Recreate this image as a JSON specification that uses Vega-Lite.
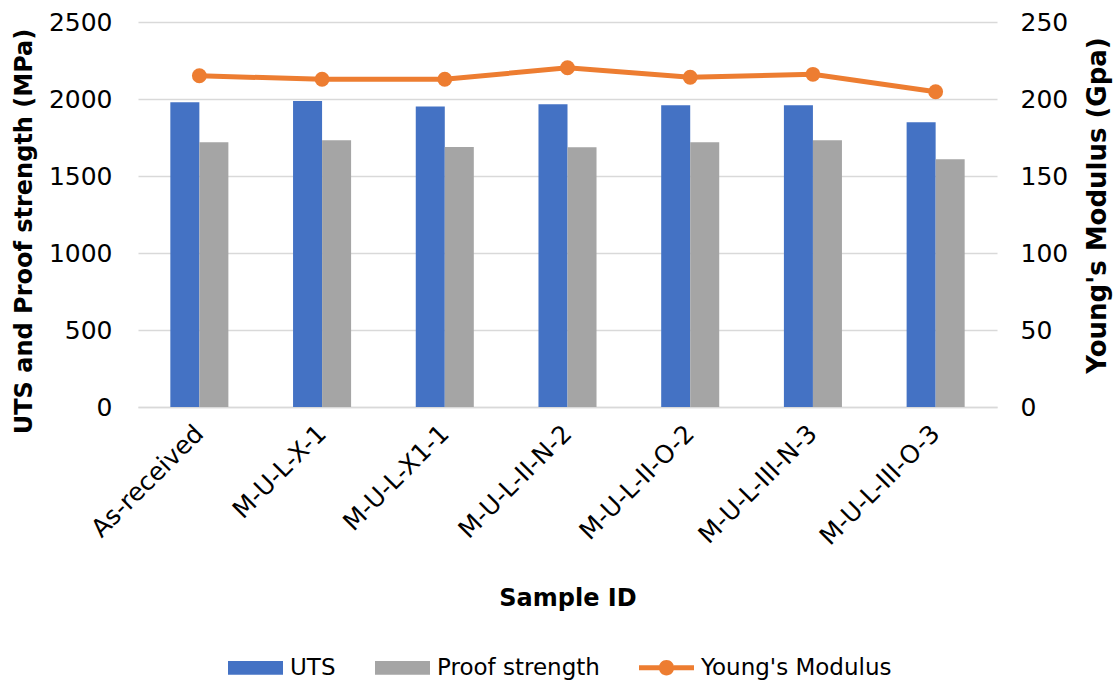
{
  "$schema": "https://vega.github.io/schema/vega-lite/v6.json",
  "width": 859,
  "height": 385,
  "autosize": {"type": "none"},
  "padding": {"left": 138, "top": 22, "right": 121, "bottom": 277},
  "background": "white",
  "config": {
    "font": "DejaVu Sans",
    "view": {"stroke": null},
    "axis": {"labelFont": "DejaVu Sans", "titleFont": "DejaVu Sans", "labelColor": "#000000", "titleColor": "#000000", "labelFontSize": 25, "titleFontSize": 24, "titleFontWeight": "bold", "gridColor": "#D9D9D9", "gridWidth": 1.3, "ticks": false, "domain": false}
  },
  "datasets": {
    "bars": [
      {"sample": "As-received", "measure": "UTS", "value": 1979},
      {"sample": "As-received", "measure": "Proof strength", "value": 1719},
      {"sample": "M-U-L-X-1", "measure": "UTS", "value": 1987},
      {"sample": "M-U-L-X-1", "measure": "Proof strength", "value": 1732},
      {"sample": "M-U-L-X1-1", "measure": "UTS", "value": 1951},
      {"sample": "M-U-L-X1-1", "measure": "Proof strength", "value": 1688},
      {"sample": "M-U-L-II-N-2", "measure": "UTS", "value": 1966},
      {"sample": "M-U-L-II-N-2", "measure": "Proof strength", "value": 1686},
      {"sample": "M-U-L-II-O-2", "measure": "UTS", "value": 1959},
      {"sample": "M-U-L-II-O-2", "measure": "Proof strength", "value": 1719},
      {"sample": "M-U-L-III-N-3", "measure": "UTS", "value": 1959},
      {"sample": "M-U-L-III-N-3", "measure": "Proof strength", "value": 1732},
      {"sample": "M-U-L-III-O-3", "measure": "UTS", "value": 1849},
      {"sample": "M-U-L-III-O-3", "measure": "Proof strength", "value": 1608}
    ],
    "modulus": [
      {"sample": "As-received", "modulus": 215.1},
      {"sample": "M-U-L-X-1", "modulus": 212.8},
      {"sample": "M-U-L-X1-1", "modulus": 212.8},
      {"sample": "M-U-L-II-N-2", "modulus": 220.3},
      {"sample": "M-U-L-II-O-2", "modulus": 214.1},
      {"sample": "M-U-L-III-N-3", "modulus": 216.0},
      {"sample": "M-U-L-III-O-3", "modulus": 204.7}
    ]
  },
  "layer": [
    {
      "data": {"name": "bars"},
      "mark": {"type": "bar"},
      "encoding": {
        "x": {
          "field": "sample", "type": "nominal", "sort": null,
          "scale": {"paddingInner": 0.527, "paddingOuter": 0.2635},
          "axis": {"title": "Sample ID", "labelAngle": -45, "labelAlign": "right", "labelBaseline": "middle", "labelPadding": 22, "titleY": 191, "titleBaseline": "middle", "domain": true, "domainColor": "#D9D9D9", "domainWidth": 1.3, "labelLimit": 300}
        },
        "xOffset": {"field": "measure", "type": "nominal", "sort": ["UTS", "Proof strength"], "scale": {"paddingInner": 0, "paddingOuter": 0}},
        "y": {
          "field": "value", "type": "quantitative",
          "scale": {"domain": [0, 2500]},
          "axis": {"title": "UTS and Proof strength (MPa)", "format": "d", "values": [0, 500, 1000, 1500, 2000, 2500], "labelPadding": 26, "titleX": -114, "titleY": 209, "titleAngle": -90, "titleBaseline": "middle", "titleAlign": "center", "orient": "left"}
        },
        "color": {
          "field": "measure", "type": "nominal",
          "scale": {"domain": ["UTS", "Proof strength", "Young's Modulus"], "range": ["#4472C4", "#A5A5A5", "#ED7D31"]},
          "legend": {
            "title": null, "orient": "none", "direction": "horizontal",
            "legendX": 90, "legendY": 618,
            "labelFontSize": 23, "labelFont": "DejaVu Sans", "labelColor": "#000000", "labelLimit": 400,
            "symbolSize": 3025, "labelOffset": 7, "columnPadding": 39,
            "symbolStrokeWidth": 0,
            "encode": {
              "symbols": {
                "update": {
                  "shape": {"signal": "datum.index === 2 ? 'M-1,-0.09H-0.27V0.09H-1Z M0.27,-0.09H1V0.09H0.27Z M0.28,0A0.28,0.28,0,1,1,-0.28,0A0.28,0.28,0,1,1,0.28,0Z' : 'M-1,-0.25H1V0.25H-1Z'"},
                  "strokeWidth": {"value": 0},
                  "opacity": {"value": 1}
                }
              }
            }
          }
        }
      }
    },
    {
      "data": {"name": "modulus"},
      "mark": {"type": "line", "color": "#ED7D31", "strokeWidth": 5, "point": {"filled": true, "size": 220, "color": "#ED7D31", "opacity": 1}},
      "encoding": {
        "x": {"field": "sample", "type": "nominal", "sort": null},
        "y": {
          "field": "modulus", "type": "quantitative",
          "scale": {"domain": [0, 250]},
          "axis": {"title": "Young's Modulus (Gpa)", "orient": "right", "values": [0, 50, 100, 150, 200, 250], "grid": false, "labelPadding": 23, "titleX": 100, "titleY": 183, "titleAngle": -90, "titleBaseline": "middle", "titleAlign": "center", "titleFontSize": 26}
        }
      }
    }
  ],
  "resolve": {"scale": {"y": "independent"}}
}
